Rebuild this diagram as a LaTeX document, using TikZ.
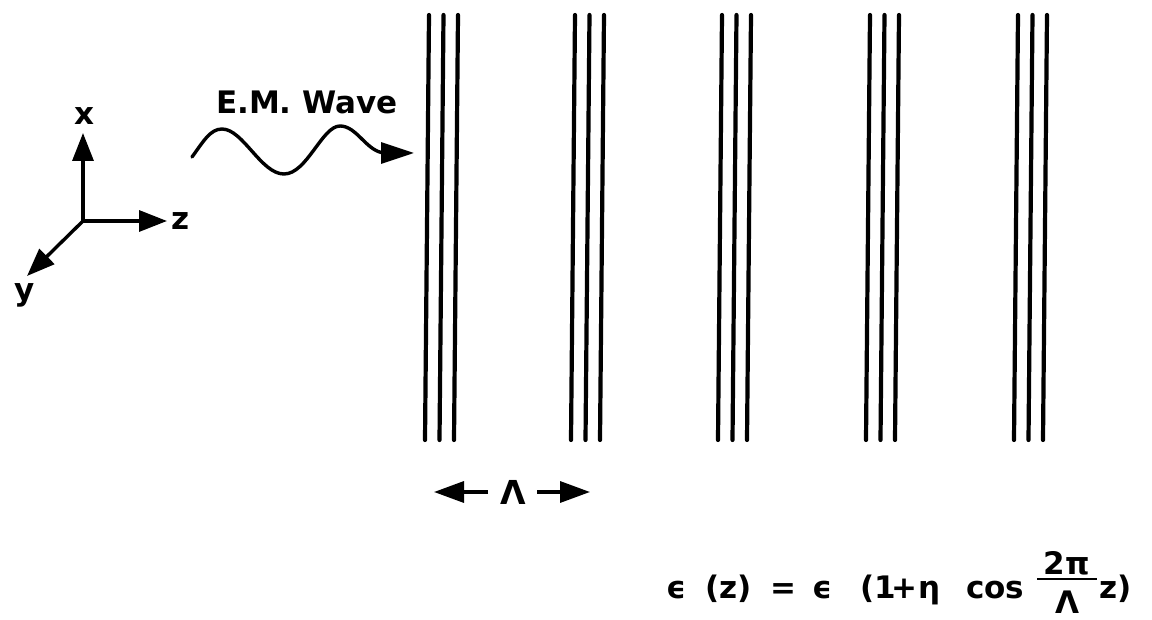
\documentclass[tikz,border=0pt]{standalone}
\usepackage{fontspec}
\setmainfont{DejaVu Sans}
\usetikzlibrary{arrows.meta}
\begin{document}
\begin{tikzpicture}[x=1pt,y=-1pt,
  plate/.style={line width=4.2pt, line cap=round},
  axis/.style={line width=3.4pt, -{Triangle[length=28pt,width=21pt]}},
  lbl/.style={font=\bfseries\fontsize{31}{36}\selectfont, inner sep=0pt},
  eq/.style={font=\bfseries\fontsize{31}{36}\selectfont, inner sep=0pt, anchor=base west}]
\useasboundingbox (0,0) rectangle (1152,620);

% coordinate axes
\coordinate (O) at (83,221);
\coordinate (xt) at (83,133);
\coordinate (zt) at (167,221);
\coordinate (yt) at (27,276);
\draw[axis] (O) -- (xt);
\draw[axis] (O) -- (zt);
\draw[axis] (O) -- (yt);
\node[lbl, anchor=base] (xl) at (84,125) {x};
\node[lbl, anchor=base west] (zl) at (171,230) {z};
\node[lbl, anchor=base] (yl) at (25,301) {y};

% incoming wave
\node[lbl, anchor=base west] (em) at (216,114) {E.M. Wave};
\coordinate (wtip) at (414,153);
\draw[line width=3.4pt, line cap=round, -{Triangle[length=33pt,width=21pt]}]
  (192,157) .. controls (203,142) and (210,129) .. (222,129)
  .. controls (243,129) and (261,174) .. (284,174)
  .. controls (307,174) and (322,126) .. (340,126)
  .. controls (357,126) and (366,151) .. (384,153)
  -- (wtip);

% grating plates
\foreach \xa in {429,575,722,870,1018}{
  \foreach \j in {0,1,2}{
    \draw[plate] (\xa+14.5*\j,15) -- (\xa+14.5*\j-4,440);
  }
}

% period marker
\node[lbl, font=\bfseries\fontsize{33}{38}\selectfont] (lam) at (513,492) {Λ};
\coordinate (la1) at (488,492);
\coordinate (la2) at (434,492);
\coordinate (ra1) at (537,492);
\coordinate (ra2) at (590,492);
\draw[line width=3.4pt, -{Triangle[length=30pt,width=21pt]}] (la1) -- (la2);
\draw[line width=3.4pt, -{Triangle[length=30pt,width=21pt]}] (ra1) -- (ra2);

% equation
\node[eq] (e1) at (666,598) {ϵ};
\node[eq] (e2) at (705,598) {(z)};
\node[eq] (e3) at (770,598) {=};
\node[eq] (e4) at (812,598) {ϵ};
\node[eq] (e5) at (860,598) {(};
\node[eq] (e6) at (874,598) {1};
\node[eq] (e7) at (891,598) {+};
\node[eq] (e8) at (918,598) {η};
\node[eq] (e9) at (966,598) {cos};
\node[eq, anchor=base] (num) at (1067,574) {2π};
\coordinate (b1) at (1037,579);
\coordinate (b2) at (1097,579);
\draw[line width=2.8pt] (b1) -- (b2);
\node[eq, anchor=base, font=\bfseries\fontsize{31}{36}\selectfont] (den) at (1067,613) {Λ};
\node[eq] (e10) at (1099,598) {z)};
\end{tikzpicture}
\end{document}
